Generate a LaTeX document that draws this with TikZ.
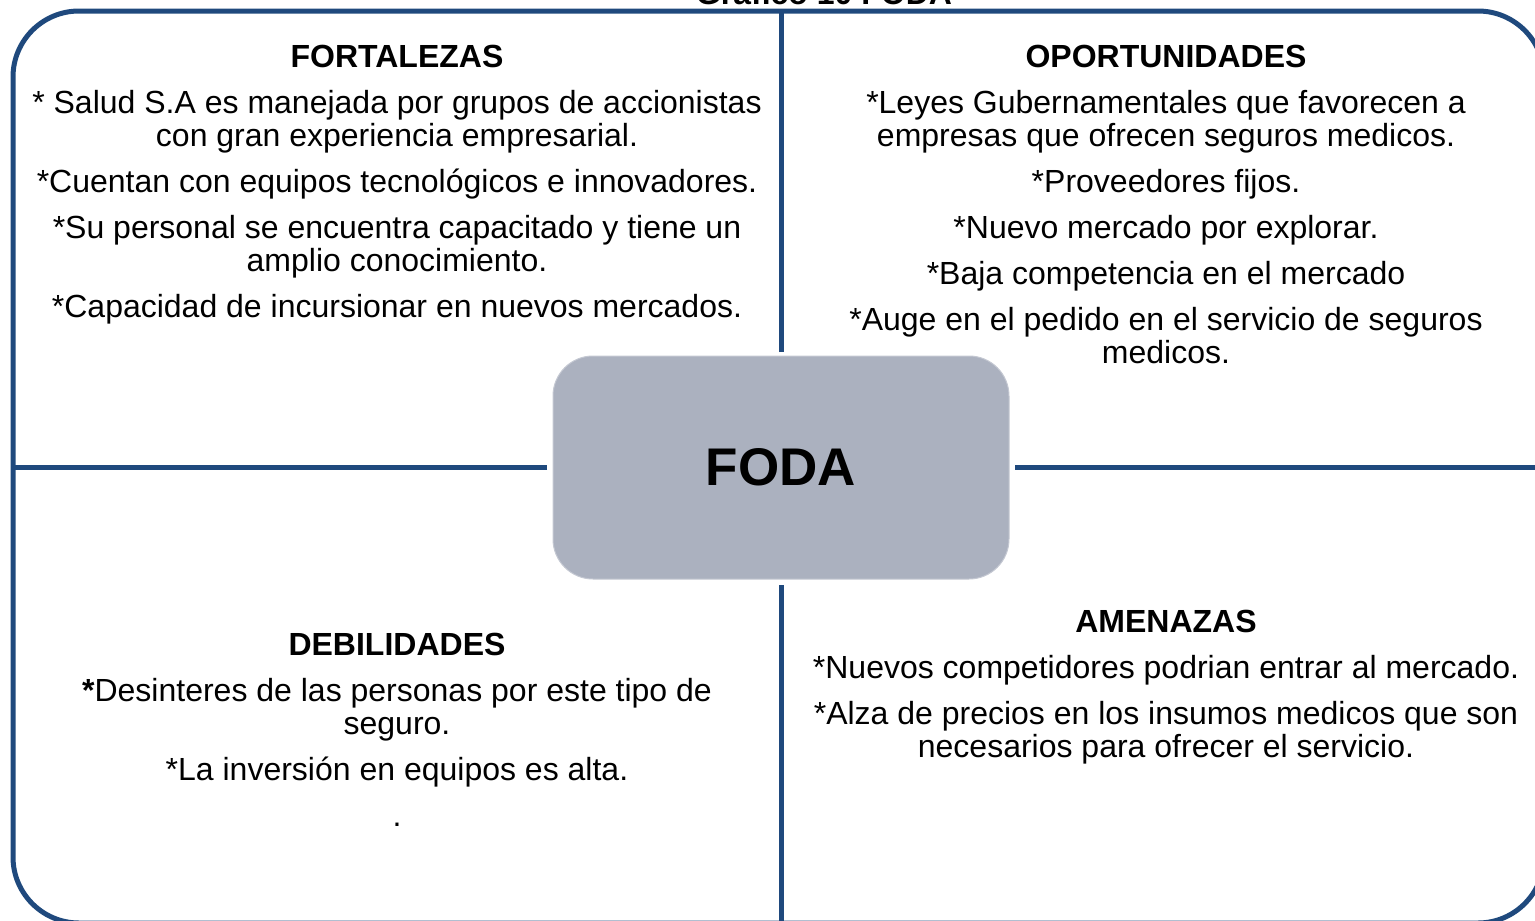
\documentclass[tikz,border=0pt]{standalone}
\usepackage{fontspec}
\setmainfont{Liberation Sans}
\usetikzlibrary{positioning, calc}

\definecolor{azulfoda}{HTML}{1F497D}
\definecolor{grisfoda}{HTML}{ABB1BF}

\begin{document}
\begin{tikzpicture}[
        x=1pt, y=-1pt,
        marco/.style={draw=azulfoda, line width=5pt, rounded corners=66pt, inner sep=0pt, outer sep=0pt},
        centro/.style={fill=grisfoda, draw=grisfoda!70!white, line width=1pt, rounded corners=40pt, inner sep=0pt, outer sep=0pt},
        linea/.style={draw=azulfoda, line width=5pt},
        cuadro/.style={align=center, inner sep=0pt, anchor=north, font=\fontsize{32}{33}\selectfont}
    ]
    \useasboundingbox (0,0) rectangle (1535,921);

    % marco y centro
    \node (marco) [marco, minimum width=1531pt, minimum height=912pt] at (778.5,467) {};
    \node (foda) [centro, minimum width=456pt, minimum height=223pt] at (781,467.5) {\fontsize{53}{56}\selectfont\textbf{FODA}};
    \node (titulo) [anchor=base, font=\fontsize{32}{33}\selectfont\bfseries] at (824,4) {Gráfico 10 FODA};

    % divisiones
    \draw[linea, shorten <=4pt] (foda.north) -- (foda.north |- marco.north);
    \draw[linea, shorten <=6pt] (foda.south) -- (foda.south |- marco.south);
    \draw[linea, shorten <=6pt] (foda.west) -- (foda.west -| marco.west);
    \draw[linea, shorten <=6pt] (foda.east) -- (foda.east -| marco.east);

    % cuadrantes
    \node (fortalezas) [cuadro] at (397,45) {\textbf{FORTALEZAS}\\[13pt]
        * Salud S.A es manejada por grupos de accionistas\\ con gran experiencia empresarial.\\[13pt]
        *Cuentan con equipos tecnológicos e innovadores.\\[13pt]
        *Su personal se encuentra capacitado y tiene un\\ amplio conocimiento.\\[13pt]
        *Capacidad de incursionar en nuevos mercados.};

    \node (oportunidades) [cuadro] at (1166,45) {\textbf{OPORTUNIDADES}\\[13pt]
        *Leyes Gubernamentales que favorecen a\\ empresas que ofrecen seguros medicos.\\[13pt]
        *Proveedores fijos.\\[13pt]
        *Nuevo mercado por explorar.\\[13pt]
        *Baja competencia en el mercado\\[13pt]
        *Auge en el pedido en el servicio de seguros\\ medicos.};

    \node (debilidades) [cuadro] at (397,633) {\textbf{DEBILIDADES}\\[13pt]
        \textbf{*}Desinteres de las personas por este tipo de\\ seguro.\\[13pt]
        *La inversión en equipos es alta.\\[13pt]
        .};

    \node (amenazas) [cuadro] at (1166,610) {\textbf{AMENAZAS}\\[13pt]
        *Nuevos competidores podrian entrar al mercado.\\[13pt]
        *Alza de precios en los insumos medicos que son\\ necesarios para ofrecer el servicio.};

\end{tikzpicture}
\end{document}
